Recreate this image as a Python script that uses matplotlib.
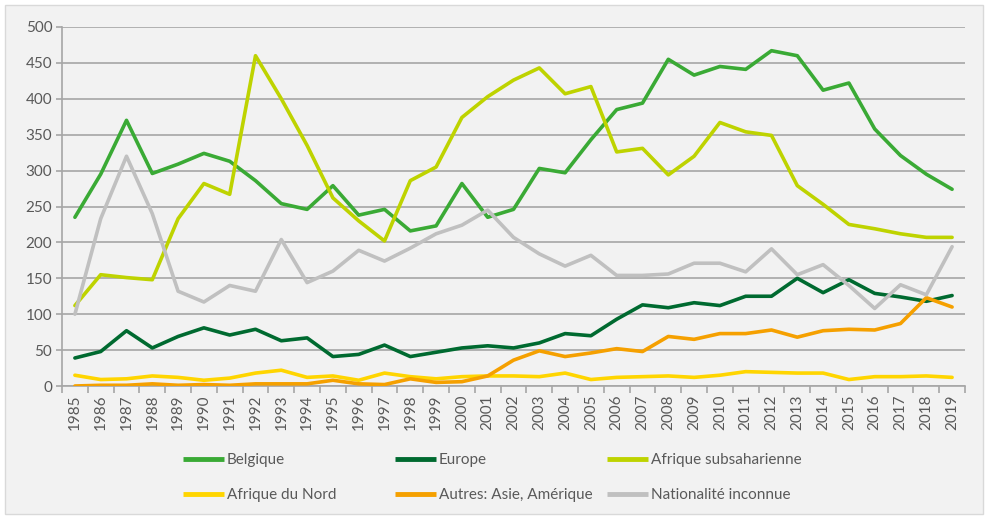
import matplotlib
matplotlib.use("Agg")
import matplotlib.pyplot as plt
from matplotlib.patches import Rectangle
from matplotlib.ticker import MultipleLocator, FixedLocator

years = list(range(1985, 2020))

belgique = [235, 295, 370, 296, 309, 324, 313, 286, 254, 246, 279, 238, 246, 216, 223,
            282, 235, 246, 303, 297, 343, 385, 394, 455, 433, 445, 441, 467, 460, 412,
            422, 358, 321, 295, 274]
europe = [39, 48, 77, 53, 69, 81, 71, 79, 63, 67, 41, 44, 57, 41, 47,
          53, 56, 53, 60, 73, 70, 93, 113, 109, 116, 112, 125, 125, 150, 130,
          148, 129, 124, 118, 126]
afrique_sub = [112, 155, 151, 148, 233, 282, 267, 460, 400, 335, 262, 230, 202, 286, 305,
               374, 403, 426, 443, 407, 417, 326, 331, 294, 320, 367, 354, 349, 279, 253,
               225, 219, 212, 207, 207]
afrique_nord = [15, 9, 10, 14, 12, 8, 11, 18, 22, 12, 14, 8, 18, 13, 10,
                13, 14, 14, 13, 18, 9, 12, 13, 14, 12, 15, 20, 19, 18, 18,
                9, 13, 13, 14, 12]
autres = [0, 1, 1, 3, 1, 2, 1, 3, 3, 3, 8, 3, 2, 10, 5,
          6, 14, 36, 49, 41, 46, 52, 48, 69, 65, 73, 73, 78, 68, 77,
          79, 78, 87, 123, 110]
inconnue = [100, 233, 320, 240, 132, 117, 140, 132, 204, 144, 160, 189, 174, 192, 212,
            224, 245, 207, 184, 167, 182, 154, 154, 156, 171, 171, 159, 191, 155, 169,
            140, 108, 141, 127, 194]

series = [
    ("Belgique", belgique, "#3aaa35"),
    ("Europe", europe, "#006a30"),
    ("Afrique subsaharienne", afrique_sub, "#bed300"),
    ("Afrique du Nord", afrique_nord, "#ffd500"),
    ("Autres: Asie, Amérique", autres, "#f5a000"),
    ("Nationalité inconnue", inconnue, "#c0c0c0"),
]

plt.rcParams["font.family"] = ["Lato", "DejaVu Sans"]
TXT = "#595959"
GRID = "#a6a6a6"
BG = "#f2f2f2"

fig = plt.figure(figsize=(9.89, 5.19), dpi=100, facecolor="white")
fig.patches.append(Rectangle((5 / 989, 5 / 519), 978 / 989, 509 / 519,
                             transform=fig.transFigure, facecolor=BG,
                             edgecolor="#d9d9d9", linewidth=1, zorder=-10))

ax = fig.add_axes([62 / 989, 1 - 386 / 519, 903 / 989, 359 / 519])
ax.set_facecolor(BG)
ax.patch.set_alpha(0)

xs = list(range(len(years)))
lines = []
for name, vals, col in series:
    ln, = ax.plot(xs, vals, color=col, linewidth=2.6, label=name,
                  solid_capstyle="round", solid_joinstyle="round", zorder=3)
    lines.append(ln)

ax.set_xlim(-0.5, len(years) - 0.5)
ax.set_ylim(0, 500)
ax.yaxis.set_major_locator(MultipleLocator(50))
ax.grid(axis="y", color=GRID, linewidth=1.2, zorder=0)
ax.set_axisbelow(True)

ax.set_xticks(xs)
ax.set_xticklabels([str(y) for y in years], rotation=90)
ax.xaxis.set_minor_locator(FixedLocator([i - 0.5 for i in range(len(years) + 1)]))
ax.tick_params(axis="x", which="major", length=0, pad=6, labelsize=11, labelcolor=TXT)
ax.tick_params(axis="x", which="minor", length=5, color=GRID, width=1.2)
ax.tick_params(axis="y", length=4, color=GRID, width=1.2, labelsize=11, labelcolor=TXT, pad=3)

for s in ["top", "right"]:
    ax.spines[s].set_visible(False)
for s in ["left", "bottom"]:
    ax.spines[s].set_color(GRID)
    ax.spines[s].set_linewidth(1.2)

# Excel-style legend: three fixed-width columns below the plot
col_x = [183, 395, 607]
for i, x0 in enumerate(col_x):
    hs = [lines[i], lines[i + 3]]
    leg = fig.legend(handles=hs, labels=[h.get_label() for h in hs],
                     loc="upper left", bbox_to_anchor=(x0 / 989, 1 - 453 / 519),
                     frameon=False, fontsize=11, handlelength=2.7, handletextpad=0.15,
                     labelspacing=1.4, borderpad=0, borderaxespad=0)
    for t in leg.get_texts():
        t.set_color(TXT)
    for h in leg.legend_handles:
        h.set_linewidth(3.5)
        h.set_solid_capstyle("butt")

fig.savefig("out.png", dpi=100, facecolor=fig.get_facecolor())
